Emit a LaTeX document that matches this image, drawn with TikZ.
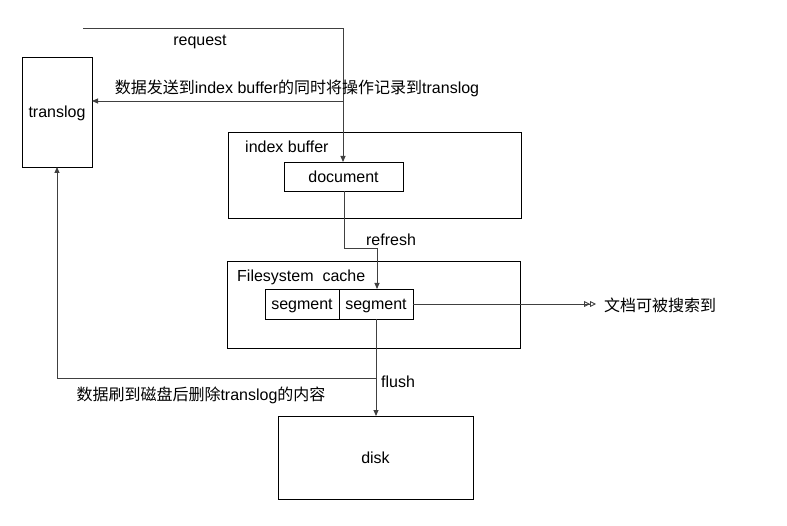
\documentclass[tikz,border=0pt]{standalone}
\usepackage{fontspec}
\setmainfont{Liberation Sans}
\newfontfamily\cjk{Noto Sans CJK SC}
\usetikzlibrary{arrows.meta}
\begin{document}
\begin{tikzpicture}[x=1pt,y=-1pt,
  box/.style={draw=black,line width=0.9pt,inner sep=0pt,outer sep=0pt},
  conn/.style={draw=black!75,line width=0.9pt},
  tip/.style={-{Triangle[length=6pt,width=5pt]}},
  lbl/.style={font=\fontsize{16}{18}\selectfont,inner sep=0pt,anchor=center,text height=11.5pt,text depth=0pt},
  lbll/.style={lbl,anchor=west}]
\useasboundingbox (0,0) rectangle (787,526);
\path[fill=white] (0,0) rectangle (787,526);
% boxes
\node[box,minimum width=70pt,minimum height=110pt] (translog) at (57,112) {};
\node[lbl] at (translog) {translog};
\node[box,minimum width=293pt,minimum height=86pt] (ib) at (374.5,175) {};
\node[lbll] (ibl) at (245,147) {index buffer};
\node[box,minimum width=119pt,minimum height=29pt,fill=white] (doc) at (343.5,176.5) {};
\node[lbl] at (doc) {document};
\node[box,minimum width=293pt,minimum height=87pt] (fc) at (373.5,304.5) {};
\node[lbll] (fcl) at (237,276) {Filesystem\ \ cache};
\node[box,minimum width=74pt,minimum height=30pt] (seg1) at (302,304) {};
\node[lbl] at (seg1) {segment};
\node[box,minimum width=74pt,minimum height=30pt] (seg2) at (376,304) {};
\node[lbl] at (seg2) {segment};
\node[box,minimum width=195pt,minimum height=83pt] (disk) at (375.5,457.5) {};
\node[lbl] at (disk) {disk};
% coordinates
\coordinate (rs) at (83,28);
\coordinate (rc) at (343,28);
\coordinate (rm) at (343,101);
\coordinate (rd) at (343,162);
\coordinate (f1) at (344,191);
\coordinate (f2) at (344,248);
\coordinate (f3) at (377,248);
\coordinate (f4) at (377,289);
\coordinate (s2e) at (413,304);
\coordinate (se) at (596,304);
\coordinate (fl1) at (376,319);
\coordinate (fl2) at (376,378);
\coordinate (fl3) at (376,416);
\coordinate (tl1) at (57,378);
\coordinate (tl2) at (57,167);
% connectors
\draw[conn,tip] (rs) -- (rc) -- (rd);
\draw[conn,tip] (rm) -- (rm -| translog.east);
\draw[conn,tip] (f1) -- (f2) -- (f3) -- (f4);
\draw[conn,-{Triangle[open,length=6pt,width=6pt]Triangle[open,length=6pt,width=6pt]}] (s2e) -- (se);
\draw[conn,tip] (fl1) -- (fl3);
\draw[conn,tip] (fl2) -- (tl1) -- (tl2);
% labels
\node[lbl] (lreq) at (200,40) {request};
\node[lbl] (lsend) at (297,88) {\cjk 数据发送到\rmfamily index buffer\cjk 的同时将操作记录到\rmfamily translog};
\node[lbl] (lref) at (391,240) {refresh};
\node[lbll] (lsearch) at (604,306) {\cjk 文档可被搜索到};
\node[lbl] (lflush) at (398,382) {flush};
\node[lbl] (ldel) at (201,395) {\cjk 数据刷到磁盘后删除\rmfamily translog\cjk 的内容};
\end{tikzpicture}
\end{document}
